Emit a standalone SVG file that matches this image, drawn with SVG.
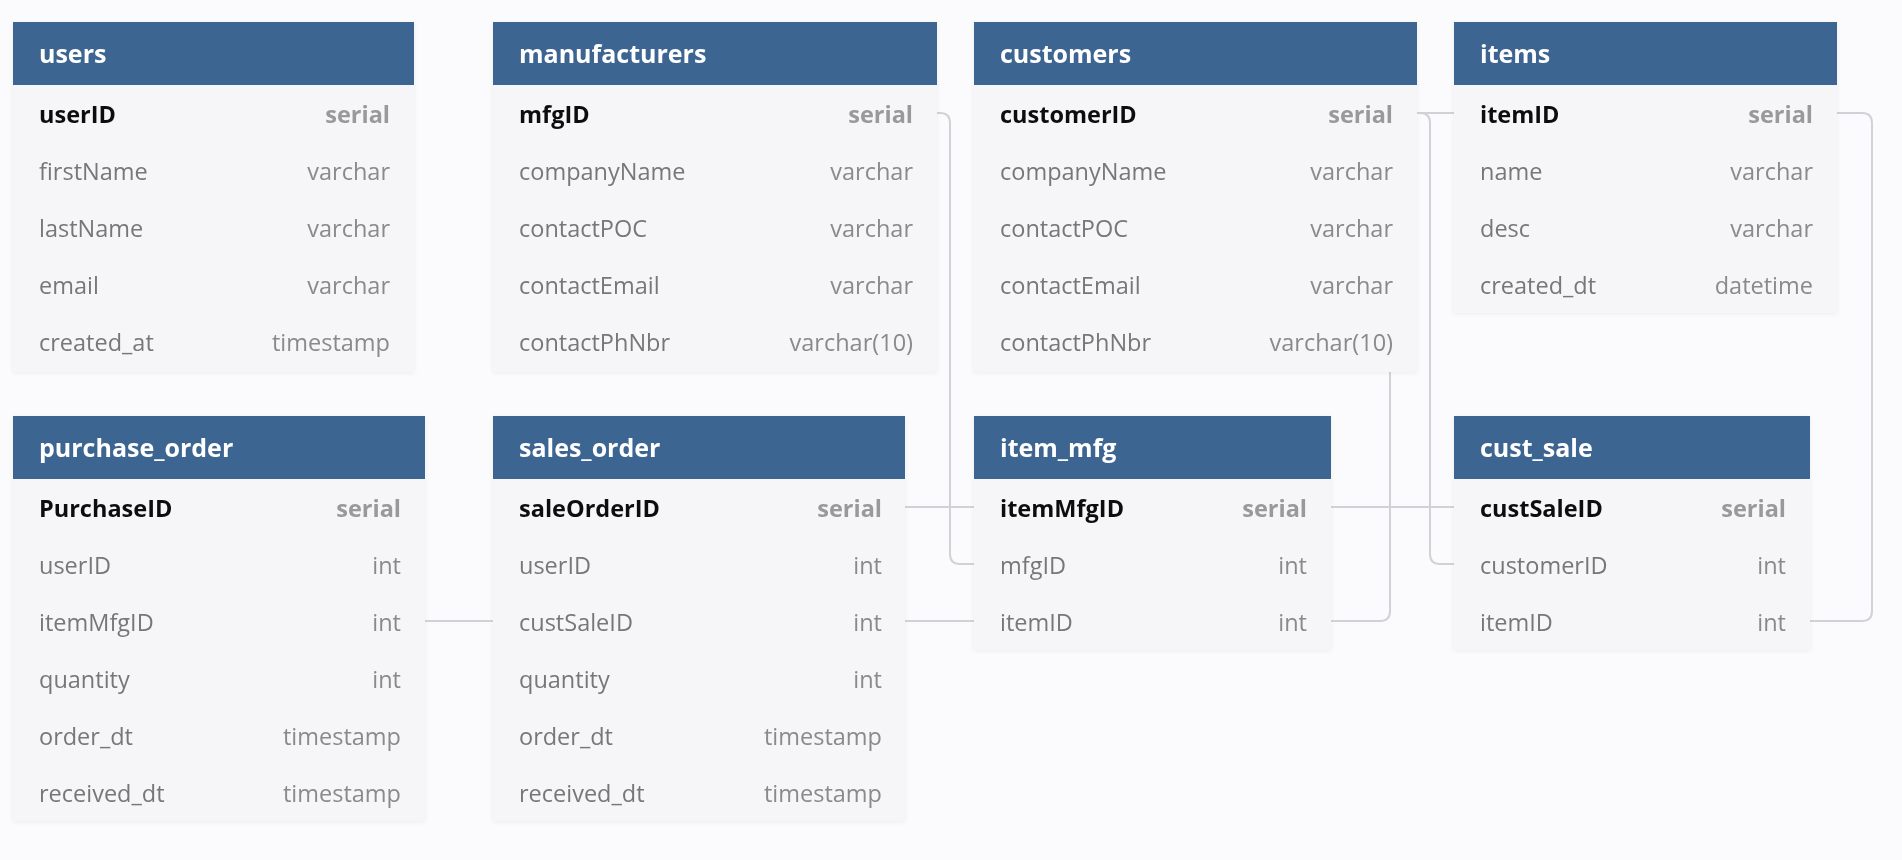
<svg xmlns="http://www.w3.org/2000/svg" width="1902" height="860" viewBox="0 0 1902 860">
<defs>
<filter id="sh" x="-5%" y="-5%" width="110%" height="110%">
<feDropShadow dx="0" dy="1" stdDeviation="2" flood-color="#000" flood-opacity="0.06"/>
</filter>
<style>
.body{fill:#F6F6F8;}
.hdr{fill:#3E6591;}
.title{font-family:"Open Sans","Liberation Sans",sans-serif;font-weight:700;font-size:25px;fill:#FFFFFF;}
.f{font-family:"Open Sans","Liberation Sans",sans-serif;font-size:23.5px;fill:#777777;}
.t{font-family:"Open Sans","Liberation Sans",sans-serif;font-size:23.5px;fill:#8A8A8A;text-anchor:end;}
.pk{font-family:"Open Sans","Liberation Sans",sans-serif;font-size:23.5px;font-weight:700;fill:#111111;}
.pkt{font-family:"Open Sans","Liberation Sans",sans-serif;font-size:23.5px;font-weight:700;fill:#999999;text-anchor:end;}
.c{fill:none;stroke:#D2D2D6;stroke-width:2;}
</style>
</defs>
<rect width="1902" height="860" fill="#FBFBFD"/>
<g id="connectors">
<path class="c" d="M425,621 H493"/>
<path class="c" d="M905,507 H974"/>
<path class="c" d="M905,621 H974"/>
<path class="c" d="M1331,507 H1454"/>
<path class="c" d="M937,113 H940 Q950,113 950,123 V554 Q950,564 960,564 H974"/>
<path class="c" d="M1417,113 H1420 Q1430,113 1430,123 V554 Q1430,564 1440,564 H1454"/>
<path class="c" d="M1331,621 H1380 Q1390,621 1390,611 V123 Q1390,113 1400,113 H1454"/>
<path class="c" d="M1837,113 H1862 Q1872,113 1872,123 V611 Q1872,621 1862,621 H1810"/>
</g>
<g id="users" filter="url(#sh)">
<rect class="body" x="13" y="22" width="401" height="350"/>
<rect class="hdr" x="13" y="22" width="401" height="63"/>
<text class="title" x="39" y="63">users</text>
<text class="pk" x="39" y="123">userID</text><text class="pkt" x="390" y="123">serial</text>
<text class="f" x="39" y="180">firstName</text><text class="t" x="390" y="180">varchar</text>
<text class="f" x="39" y="237">lastName</text><text class="t" x="390" y="237">varchar</text>
<text class="f" x="39" y="294">email</text><text class="t" x="390" y="294">varchar</text>
<text class="f" x="39" y="351">created_at</text><text class="t" x="390" y="351">timestamp</text>
</g>
<g id="manufacturers" filter="url(#sh)">
<rect class="body" x="493" y="22" width="444" height="350"/>
<rect class="hdr" x="493" y="22" width="444" height="63"/>
<text class="title" x="519" y="63">manufacturers</text>
<text class="pk" x="519" y="123">mfgID</text><text class="pkt" x="913" y="123">serial</text>
<text class="f" x="519" y="180">companyName</text><text class="t" x="913" y="180">varchar</text>
<text class="f" x="519" y="237">contactPOC</text><text class="t" x="913" y="237">varchar</text>
<text class="f" x="519" y="294">contactEmail</text><text class="t" x="913" y="294">varchar</text>
<text class="f" x="519" y="351">contactPhNbr</text><text class="t" x="913" y="351">varchar(10)</text>
</g>
<g id="customers" filter="url(#sh)">
<rect class="body" x="974" y="22" width="443" height="350"/>
<rect class="hdr" x="974" y="22" width="443" height="63"/>
<text class="title" x="1000" y="63">customers</text>
<text class="pk" x="1000" y="123">customerID</text><text class="pkt" x="1393" y="123">serial</text>
<text class="f" x="1000" y="180">companyName</text><text class="t" x="1393" y="180">varchar</text>
<text class="f" x="1000" y="237">contactPOC</text><text class="t" x="1393" y="237">varchar</text>
<text class="f" x="1000" y="294">contactEmail</text><text class="t" x="1393" y="294">varchar</text>
<text class="f" x="1000" y="351">contactPhNbr</text><text class="t" x="1393" y="351">varchar(10)</text>
</g>
<g id="items" filter="url(#sh)">
<rect class="body" x="1454" y="22" width="383" height="291"/>
<rect class="hdr" x="1454" y="22" width="383" height="63"/>
<text class="title" x="1480" y="63">items</text>
<text class="pk" x="1480" y="123">itemID</text><text class="pkt" x="1813" y="123">serial</text>
<text class="f" x="1480" y="180">name</text><text class="t" x="1813" y="180">varchar</text>
<text class="f" x="1480" y="237">desc</text><text class="t" x="1813" y="237">varchar</text>
<text class="f" x="1480" y="294">created_dt</text><text class="t" x="1813" y="294">datetime</text>
</g>
<g id="purchase_order" filter="url(#sh)">
<rect class="body" x="13" y="416" width="412" height="405"/>
<rect class="hdr" x="13" y="416" width="412" height="63"/>
<text class="title" x="39" y="457">purchase_order</text>
<text class="pk" x="39" y="517">PurchaseID</text><text class="pkt" x="401" y="517">serial</text>
<text class="f" x="39" y="574">userID</text><text class="t" x="401" y="574">int</text>
<text class="f" x="39" y="631">itemMfgID</text><text class="t" x="401" y="631">int</text>
<text class="f" x="39" y="688">quantity</text><text class="t" x="401" y="688">int</text>
<text class="f" x="39" y="745">order_dt</text><text class="t" x="401" y="745">timestamp</text>
<text class="f" x="39" y="802">received_dt</text><text class="t" x="401" y="802">timestamp</text>
</g>
<g id="sales_order" filter="url(#sh)">
<rect class="body" x="493" y="416" width="412" height="405"/>
<rect class="hdr" x="493" y="416" width="412" height="63"/>
<text class="title" x="519" y="457">sales_order</text>
<text class="pk" x="519" y="517">saleOrderID</text><text class="pkt" x="882" y="517">serial</text>
<text class="f" x="519" y="574">userID</text><text class="t" x="882" y="574">int</text>
<text class="f" x="519" y="631">custSaleID</text><text class="t" x="882" y="631">int</text>
<text class="f" x="519" y="688">quantity</text><text class="t" x="882" y="688">int</text>
<text class="f" x="519" y="745">order_dt</text><text class="t" x="882" y="745">timestamp</text>
<text class="f" x="519" y="802">received_dt</text><text class="t" x="882" y="802">timestamp</text>
</g>
<g id="item_mfg" filter="url(#sh)">
<rect class="body" x="974" y="416" width="357" height="234"/>
<rect class="hdr" x="974" y="416" width="357" height="63"/>
<text class="title" x="1000" y="457">item_mfg</text>
<text class="pk" x="1000" y="517">itemMfgID</text><text class="pkt" x="1307" y="517">serial</text>
<text class="f" x="1000" y="574">mfgID</text><text class="t" x="1307" y="574">int</text>
<text class="f" x="1000" y="631">itemID</text><text class="t" x="1307" y="631">int</text>
</g>
<g id="cust_sale" filter="url(#sh)">
<rect class="body" x="1454" y="416" width="356" height="234"/>
<rect class="hdr" x="1454" y="416" width="356" height="63"/>
<text class="title" x="1480" y="457">cust_sale</text>
<text class="pk" x="1480" y="517">custSaleID</text><text class="pkt" x="1786" y="517">serial</text>
<text class="f" x="1480" y="574">customerID</text><text class="t" x="1786" y="574">int</text>
<text class="f" x="1480" y="631">itemID</text><text class="t" x="1786" y="631">int</text>
</g>
</svg>
